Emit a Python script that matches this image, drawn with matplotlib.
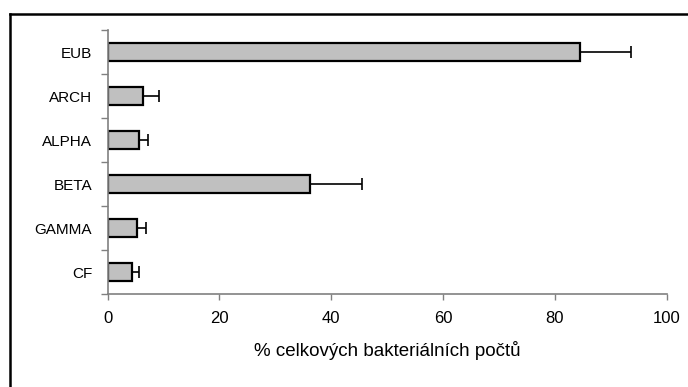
import matplotlib.pyplot as plt
from matplotlib.lines import Line2D

plt.rcParams['font.family'] = ['Liberation Sans', 'DejaVu Sans']

# skupiny sond a podíly z celkových bakteriálních počtů
groups = ['EUB', 'ARCH', 'ALPHA', 'BETA', 'GAMMA', 'CF']
values = [84.5, 6.4, 5.7, 36.3, 5.2, 4.4]
errors = [9.1, 2.8, 1.6, 9.3, 1.7, 1.3]

fig = plt.figure(figsize=(6.88, 3.87), dpi=100)
ax = fig.add_axes([107.5 / 688, 1 - 294 / 387, 559 / 688, 264 / 387])

pos = list(range(len(groups)))[::-1]
ax.barh(pos, values, height=0.41, color='#c0c0c0', edgecolor='black',
        linewidth=1.6, zorder=2)
ax.errorbar(values, pos, xerr=[[0] * len(errors), errors], fmt='none',
            ecolor='black', elinewidth=1.2, capsize=4.5, capthick=1.2, zorder=1)

ax.set_xlim(0, 100)
ax.set_ylim(-0.5, len(groups) - 0.5)
ax.set_xticks([0, 20, 40, 60, 80, 100])
ax.set_yticks(pos)
ax.set_yticklabels(groups)
# dílky osy y na hranicích kategorií
ax.set_yticks([p - 0.5 for p in range(len(groups) + 1)], minor=True)
ax.tick_params(axis='y', which='major', length=0, pad=11, labelsize=11)
ax.tick_params(axis='y', which='minor', length=5, width=1, color='#808080',
               direction='out')
ax.tick_params(axis='x', length=4, width=1, color='#808080', direction='out',
               pad=8, labelsize=12)

for s in ['top', 'right']:
    ax.spines[s].set_visible(False)
for s in ['left', 'bottom']:
    ax.spines[s].set_color('#808080')
    ax.spines[s].set_linewidth(1.2)

ax.set_xlabel('% celkových bakteriálních počtů', fontsize=13.5, labelpad=11)

# rámeček kolem grafu (levá a horní hrana)
fig.add_artist(Line2D([9.5 / 688, 9.5 / 688], [0, 1 - 13.5 / 387],
                      color='black', linewidth=1.8, transform=fig.transFigure))
fig.add_artist(Line2D([9.5 / 688, 1], [1 - 13.5 / 387, 1 - 13.5 / 387],
                      color='black', linewidth=1.8, transform=fig.transFigure))

fig.savefig('out.png', dpi=100)
